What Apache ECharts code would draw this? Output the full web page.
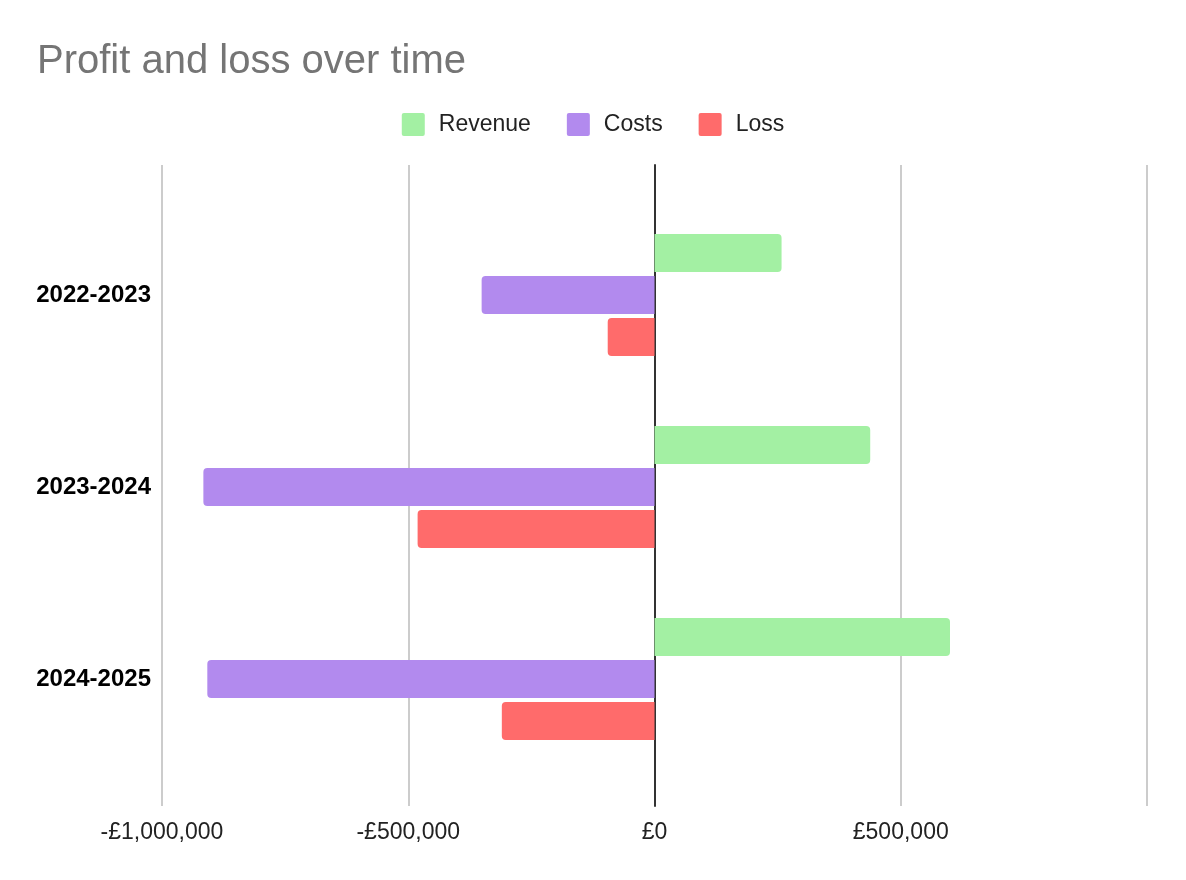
<!DOCTYPE html>
<html>
<head>
<meta charset="utf-8">
<script src="https://cdn.jsdelivr.net/npm/echarts@6/dist/echarts.min.js"></script>
<style>
html,body{margin:0;padding:0;background:#fff;}
#chart{width:1186px;height:880px;}
</style>
</head>
<body>
<div id="chart"></div>
<script>
const categories = ['2022-2023', '2023-2024', '2024-2025'];
const revenue = [258000, 438000, 600000];
const costs = [-351000, -916000, -908000];
const loss = [-95000, -481000, -310000];
const axisMin = -1000000;
const axisMax = 1000000;
const axisStep = 500000;

const FONT = 'Arial, "Liberation Sans", Helvetica, sans-serif';

function fmt(v) {
  const s = Math.abs(v).toLocaleString('en-GB');
  return (v < 0 ? '-£' : '£') + s;
}

const chart = echarts.init(document.getElementById('chart'), null, {renderer: 'canvas'});
chart.setOption({
  animation: false,
  backgroundColor: '#ffffff',
  title: {
    text: 'Profit and loss over time',
    left: 37,
    top: 42,
    padding: 0,
    textStyle: {fontFamily: FONT, fontSize: 40, fontWeight: 'normal', color: '#757575'}
  },
  legend: {
    top: 108,
    left: 'center',
    itemWidth: 23,
    itemHeight: 23,
    itemGap: 36,
    icon: 'path://M2,0 H20 Q22,0 22,2 V20 Q22,22 20,22 H2 Q0,22 0,20 V2 Q0,0 2,0 Z',
    textStyle: {fontFamily: FONT, fontSize: 23, color: '#222', padding: [0, 0, 0, 9]},
    data: ['Revenue', 'Costs', 'Loss']
  },
  grid: [
    {left: 162, right: 39, top: 165, bottom: 74},
    {left: 162, right: 39, top: 199, bottom: 105}
  ],
  xAxis: [
    {
      type: 'value', gridIndex: 0, min: axisMin, max: axisMax, interval: axisStep,
      axisLine: {show: false}, axisTick: {show: false},
      splitLine: {show: true, lineStyle: {color: '#cccccc', width: 2}},
      axisLabel: {
        fontFamily: FONT, fontSize: 23, color: '#222', margin: 15,
        showMaxLabel: false, formatter: fmt
      }
    },
    {
      type: 'value', gridIndex: 1, min: axisMin, max: axisMax, interval: axisStep,
      show: false, splitLine: {show: false}
    }
  ],
  yAxis: [
    {
      type: 'category', gridIndex: 0, data: categories, inverse: true,
      axisLine: {show: true, onZero: true, lineStyle: {color: '#333', width: 2}},
      axisTick: {show: false}, axisLabel: {show: false}, splitLine: {show: false}
    },
    {
      type: 'category', gridIndex: 1, data: categories, inverse: true,
      axisLine: {show: false}, axisTick: {show: false},
      axisLabel: {fontFamily: FONT, fontSize: 24, fontWeight: 'bold', color: '#000', margin: 11}
    }
  ],
  series: [
    {
      name: 'Revenue', type: 'bar', xAxisIndex: 1, yAxisIndex: 1, data: revenue,
      barWidth: 38, barGap: '10.5%',
      itemStyle: {color: '#a3f0a3', borderRadius: [0, 4, 4, 0]}
    },
    {
      name: 'Costs', type: 'bar', xAxisIndex: 1, yAxisIndex: 1, data: costs,
      barWidth: 38, barGap: '10.5%',
      itemStyle: {color: '#b28aee', borderRadius: [4, 0, 0, 4]}
    },
    {
      name: 'Loss', type: 'bar', xAxisIndex: 1, yAxisIndex: 1, data: loss,
      barWidth: 38, barGap: '10.5%',
      itemStyle: {color: '#ff6b6b', borderRadius: [4, 0, 0, 4]}
    }
  ]
});
</script>
</body>
</html>
